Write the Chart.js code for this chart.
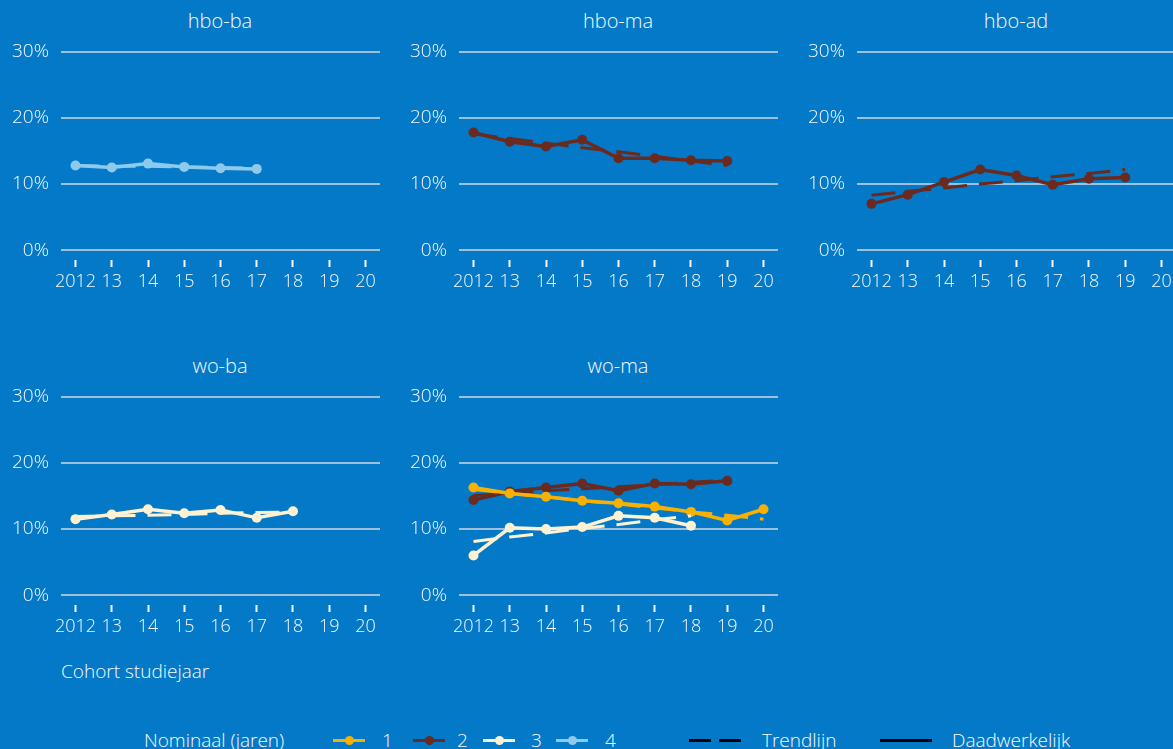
<!DOCTYPE html>
<html>
<head>
<meta charset="utf-8">
<script src="https://cdn.jsdelivr.net/npm/chart.js@4/dist/chart.umd.min.js"></script>
<style>
  html, body { margin:0; padding:0; width:1173px; height:749px; overflow:hidden; background:#0479C8; font-family:"Open Sans", sans-serif; color:#f6f9fc; }
  .c { position:absolute; width:400px; height:260px; }
  .t { position:absolute; font-size:20px; text-align:center; width:200px; margin-left:-100px; font-weight:300; }
  .lg { position:absolute; top:728px; font-size:19px; font-weight:300; line-height:24px; white-space:nowrap; }
  .sw { position:absolute; height:3px; width:32px; top:739px; }
  .dot { position:absolute; width:9px; height:9px; border-radius:50%; left:11.5px; top:-3px; }
</style>
</head>
<body>
<script>
// ---- data ----
const years = [2012, 2013, 2014, 2015, 2016, 2017, 2018, 2019, 2020];
const tickLabels = ['2012', '13', '14', '15', '16', '17', '18', '19', '20'];
const yTicks = [0, 10, 20, 30];

const hboBa4 = [12.8, 12.5, 13.1, 12.6, 12.4, 12.3];
const hboBa4Trend = [12.8, 12.7, 12.7, 12.6, 12.5, 12.4];

const hboMa2 = [17.8, 16.4, 15.7, 16.7, 13.9, 13.9, 13.6, 13.5];
const hboMa2Trend = [17.6, 16.9, 16.2, 15.5, 14.9, 14.2, 13.5, 12.8];

const hboAd2 = [7.0, 8.4, 10.3, 12.2, 11.3, 9.9, 10.8, 11.0];
const hboAd2Trend = [8.3, 8.9, 9.4, 10.0, 10.5, 11.1, 11.6, 12.2];

const woBa3 = [11.5, 12.2, 13.0, 12.4, 12.9, 11.7, 12.7];
const woBa3Trend = [11.9, 12.0, 12.1, 12.2, 12.4, 12.5, 12.6];

const woMa1 = [16.3, 15.4, 14.9, 14.3, 13.9, 13.4, 12.6, 11.3, 13.0];
const woMa1Trend = [16.0, 15.4, 14.9, 14.3, 13.8, 13.2, 12.6, 12.1, 11.5];
const woMa2 = [14.4, 15.7, 16.3, 16.9, 15.8, 16.9, 16.8, 17.3];
const woMa2Trend = [15.1, 15.4, 15.8, 16.1, 16.4, 16.7, 17.1, 17.4];
const woMa3 = [6.0, 10.2, 10.0, 10.3, 12.0, 11.7, 10.5];
const woMa3Trend = [8.1, 8.8, 9.4, 10.1, 10.7, 11.4, 12.0];

const colors = { 1: '#F9B000', 2: '#6B2A1E', 3: '#FFF2D2', 4: '#8DCAEC' };
const textColor = '#f6f9fc';
const gridColor = '#9DC1DD';

// ---- layout ----
const panels = [
  { title: 'hbo-ba', left: 0,   top: 40,  series: [[4, hboBa4, hboBa4Trend]] },
  { title: 'hbo-ma', left: 398, top: 40,  series: [[2, hboMa2, hboMa2Trend]] },
  { title: 'hbo-ad', left: 796, top: 40,  series: [[2, hboAd2, hboAd2Trend]] },
  { title: 'wo-ba',  left: 0,   top: 385, series: [[3, woBa3, woBa3Trend]] },
  { title: 'wo-ma',  left: 398, top: 385, series: [[3, woMa3, woMa3Trend], [1, woMa1, woMa1Trend], [2, woMa2, woMa2Trend]] }
];

function pts(arr) { return arr.map((v, i) => ({ x: years[i], y: v })); }

panels.forEach(p => {
  const t = document.createElement('div');
  t.className = 't';
  t.textContent = p.title;
  t.style.left = (p.left + 220) + 'px';
  t.style.top = (p.top - 33) + 'px';
  document.body.appendChild(t);

  const cv = document.createElement('canvas');
  cv.className = 'c';
  cv.width = 400; cv.height = 260;
  cv.style.left = p.left + 'px';
  cv.style.top = p.top + 'px';
  document.body.appendChild(cv);

  const datasets = [];
  p.series.forEach(([k, vals, trend]) => {
    datasets.push({
      data: pts(trend), borderColor: colors[k], borderWidth: 3,
      borderDash: [24, 12], pointRadius: 0, fill: false, tension: 0
    });
    datasets.push({
      data: pts(vals), borderColor: colors[k], backgroundColor: colors[k], borderWidth: 3.5,
      pointRadius: 5, pointHoverRadius: 5, pointBorderWidth: 0, fill: false, tension: 0
    });
  });

  new Chart(cv, {
    type: 'line',
    data: { datasets },
    options: {
      responsive: false, animation: false, events: [],
      layout: { padding: { top: 12, right: 20, bottom: 0, left: 0 } },
      plugins: { legend: { display: false }, tooltip: { enabled: false } },
      scales: {
        x: {
          type: 'linear', min: 2011.6, max: 2020.4,
          afterBuildTicks: s => { s.ticks = years.map(v => ({ value: v })); },
          afterFit: s => { s.height = 40; s.paddingLeft = 0; s.paddingRight = 0; },
          border: { display: false },
          grid: { drawOnChartArea: false, drawTicks: true, tickLength: 7, tickWidth: 2, tickColor: textColor },
          ticks: {
            color: textColor, padding: 4, maxRotation: 0, autoSkip: false,
            font: { family: 'Open Sans', size: 18, weight: 300 },
            callback: v => tickLabels[years.indexOf(v)]
          }
        },
        y: {
          min: -1.5, max: 30,
          afterBuildTicks: s => { s.ticks = yTicks.map(v => ({ value: v })); },
          afterFit: s => { s.width = 61; s.paddingTop = 0; s.paddingBottom = 0; },
          border: { display: false },
          grid: { color: gridColor, lineWidth: 2, drawTicks: false },
          ticks: {
            color: textColor, padding: 12,
            font: { family: 'Open Sans', size: 19, weight: 300 },
            callback: v => v + '%'
          }
        }
      }
    }
  });
});

// ---- footer text & legend ----
function addText(txt, left, top, cls) {
  const d = document.createElement('div');
  d.className = cls || 'lg';
  d.textContent = txt;
  d.style.left = left + 'px';
  if (top !== undefined) d.style.top = top + 'px';
  document.body.appendChild(d);
  return d;
}
addText('Cohort studiejaar', 61, 659);
addText('Nominaal (jaren)', 144);
const legendItems = [[1, 333, 382], [2, 413, 457], [3, 483, 531], [4, 556, 605]];
legendItems.forEach(([k, sx, tx]) => {
  const s = document.createElement('div');
  s.className = 'sw'; s.style.left = sx + 'px'; s.style.background = colors[k];
  const d = document.createElement('div');
  d.className = 'dot'; d.style.background = colors[k];
  s.appendChild(d);
  document.body.appendChild(s);
  addText(String(k), tx);
});
// Trendlijn sample (dashed) and Daadwerkelijk (solid)
[[689, 711], [719, 741]].forEach(([a, b]) => {
  const s = document.createElement('div');
  s.className = 'sw'; s.style.left = a + 'px'; s.style.width = (b - a) + 'px'; s.style.background = '#000';
  document.body.appendChild(s);
});
addText('Trendlijn', 762);
const solid = document.createElement('div');
solid.className = 'sw'; solid.style.left = '880px'; solid.style.width = '52px'; solid.style.background = '#000';
document.body.appendChild(solid);
addText('Daadwerkelijk', 952);
</script>
</body>
</html>
